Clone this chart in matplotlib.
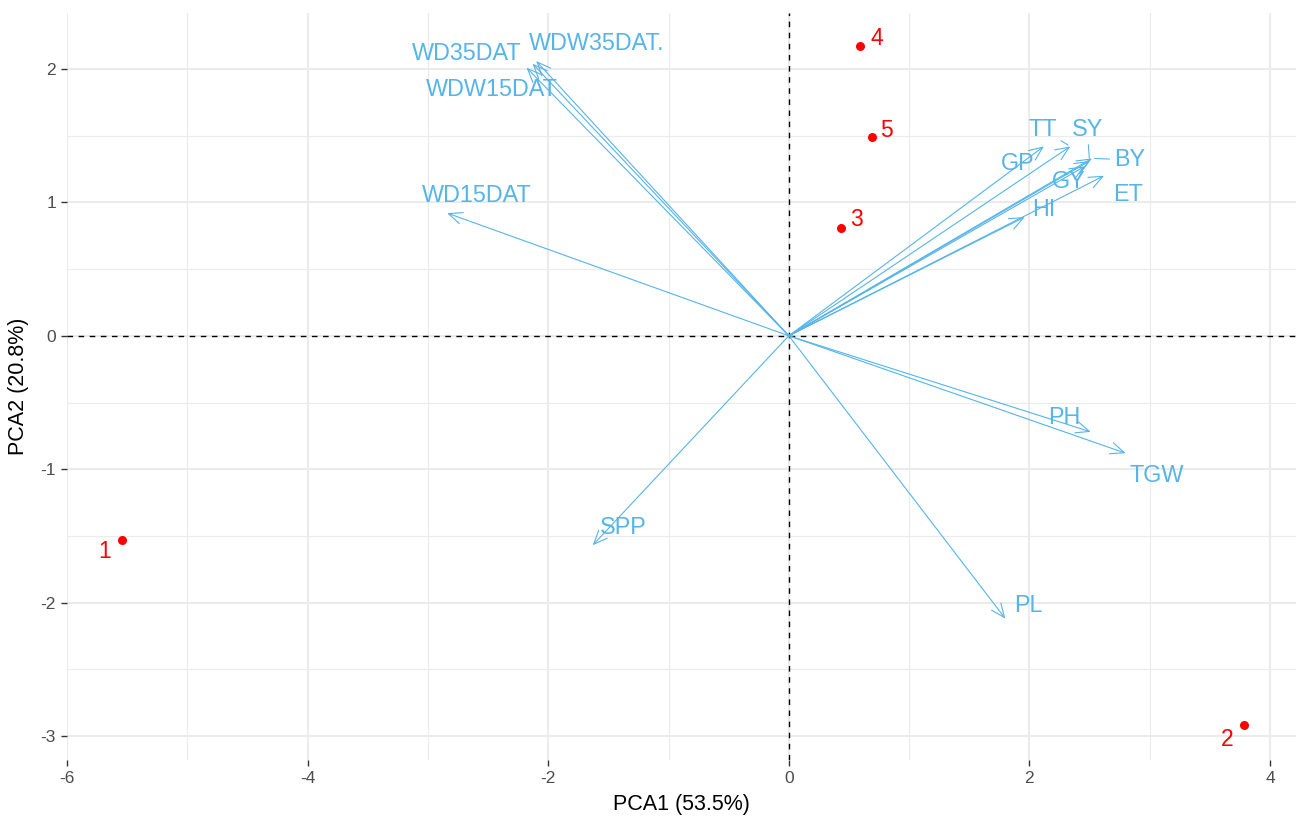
import numpy as np
import matplotlib.pyplot as plt

plt.rcParams['font.family'] = ['Liberation Sans', 'DejaVu Sans']
plt.rcParams['axes.unicode_minus'] = False

# variable loadings (arrow tips)
var_names = ['WD15DAT', 'WD35DAT', 'WDW15DAT', 'WDW35DAT.', 'SPP', 'PL', 'TGW', 'PH',
             'HI', 'ET', 'GY', 'BY', 'SY', 'TT', 'GP']
var_x = [-2.84, -2.13, -2.18, -2.10, -1.63, 1.80, 2.80, 2.51,
         1.96, 2.62, 2.46, 2.52, 2.50, 2.34, 2.12]
var_y = [0.92, 2.04, 2.01, 2.06, -1.57, -2.12, -0.88, -0.72,
         0.89, 1.20, 1.27, 1.33, 1.31, 1.42, 1.42]
# repelled label positions
lab_x = [-2.59, -2.68, -2.47, -1.60, -1.38, 1.995, 3.06, 2.29,
         2.12, 2.82, 2.33, 2.83, 2.48, 2.11, 1.90]
lab_y = [1.05, 2.12, 1.85, 2.19, -1.44, -2.02, -1.05, -0.615,
         0.95, 1.06, 1.16, 1.32, 1.55, 1.545, 1.29]
lab_segment = ['BY', 'SY', 'TT']

# observation scores
obs_names = ['1', '2', '3', '4', '5']
obs_x = [-5.54, 3.78, 0.43, 0.59, 0.69]
obs_y = [-1.53, -2.92, 0.81, 2.17, 1.49]
obs_lab_x = [-5.69, 3.64, 0.56, 0.73, 0.81]
obs_lab_y = [-1.62, -3.03, 0.87, 2.23, 1.54]

blue = '#56B4E9'

fig = plt.figure(figsize=(12.96, 8.21), dpi=100)
ax = fig.add_axes([67 / 1296, 61 / 821, 1229 / 1296, 747 / 821])

ax.set_xlim(-6.0, 4.216)
ax.set_ylim(-3.18, 2.42)
ax.set_xticks([-6, -4, -2, 0, 2, 4])
ax.set_yticks([-3, -2, -1, 0, 1, 2])
ax.set_xticks(np.arange(-5, 5, 2), minor=True)
ax.set_yticks(np.arange(-2.5, 2.5, 1), minor=True)
ax.grid(which='major', color='#EBEBEB', lw=1.5)
ax.grid(which='minor', color='#EBEBEB', lw=0.8)
ax.set_axisbelow(True)
for s in ax.spines.values():
    s.set_visible(False)
ax.tick_params(which='major', length=4, width=1, color='#333333',
               labelsize=12.5, labelcolor='#4D4D4D', pad=4)
ax.tick_params(which='minor', length=0)

ax.axhline(0, color='black', ls='--', lw=1, dashes=(4, 4), zorder=1)
ax.axvline(0, color='black', ls='--', lw=1, dashes=(4, 4), zorder=1)

for x, y in zip(var_x, var_y):
    ax.annotate('', xy=(x, y), xytext=(0, 0),
                arrowprops=dict(arrowstyle='->,head_length=0.7,head_width=0.3',
                                color=blue, lw=0.8, shrinkA=0, shrinkB=0,
                                mutation_scale=14))

for name, x, y, lx, ly in zip(var_names, var_x, var_y, lab_x, lab_y):
    if name in lab_segment:
        ax.annotate(name, xy=(x, y), xytext=(lx, ly), color=blue, fontsize=16.8,
                    ha='center', va='center',
                    arrowprops=dict(arrowstyle='-', color=blue, lw=0.8,
                                    shrinkA=1, shrinkB=2))
    else:
        ax.text(lx, ly, name, color=blue, fontsize=16.8, ha='center', va='center')

ax.scatter(obs_x, obs_y, s=30, color='red', zorder=3)
for name, lx, ly in zip(obs_names, obs_lab_x, obs_lab_y):
    ax.text(lx, ly, name, color='red', fontsize=16.5, ha='center', va='center')

ax.set_xlabel('PCA1 (53.5%)', fontsize=15.5, labelpad=6)
ax.set_ylabel('PCA2 (20.8%)', fontsize=15.5, labelpad=8)

fig.savefig('out.png', dpi=100)
